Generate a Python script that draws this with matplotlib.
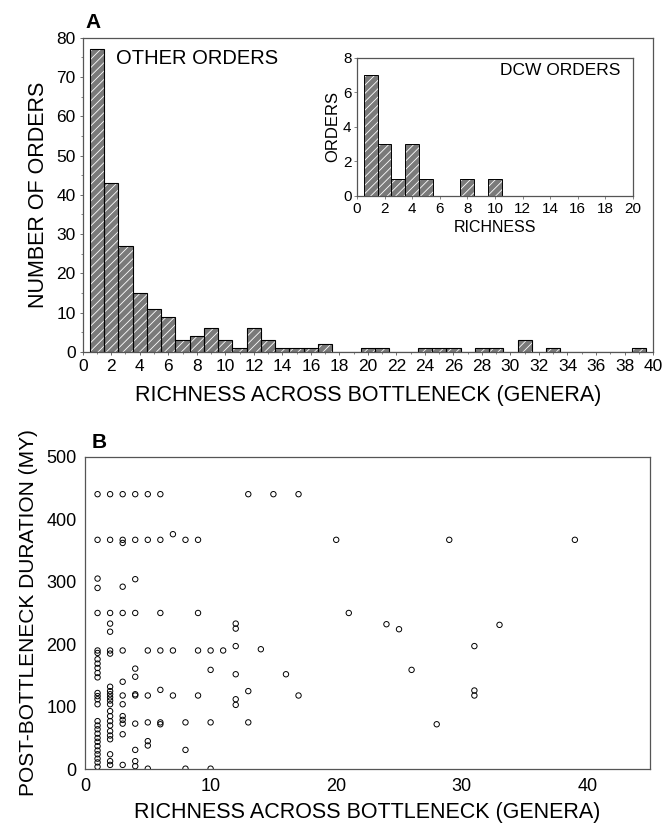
import numpy as np
import matplotlib
matplotlib.use('Agg')
import matplotlib.pyplot as plt

plt.rcParams['font.family'] = ['Liberation Sans', 'DejaVu Sans']
plt.rcParams['hatch.linewidth'] = 0.6

# panel A histogram (other orders), richness 1..39
richness = np.arange(1, 40)
other_counts = [77, 43, 27, 15, 11, 9, 3, 4, 6, 3, 1, 6, 3, 1, 1, 1, 2, 0, 0, 1,
                1, 0, 0, 1, 1, 1, 0, 1, 1, 0, 3, 0, 1, 0, 0, 0, 0, 0, 1]

# inset (DCW orders)
dcw_richness = np.arange(1, 11)
dcw_counts = [7, 3, 1, 3, 1, 0, 0, 1, 0, 1]

# panel B scatter: richness vs post-bottleneck duration (MY)
scatter_cols = {
    1: [440, 367, 305, 290, 250, 190, 186, 176, 169, 162, 154, 147, 122, 117, 112, 104,
        77, 70, 64, 57, 50, 44, 37, 30, 24, 17, 11, 4],
    2: [440, 367, 250, 233, 220, 190, 185, 132, 125, 120, 115, 110, 104, 93, 85, 77, 70,
        61, 54, 48, 24, 13, 7],
    3: [440, 367, 362, 292, 250, 190, 140, 118, 104, 85, 79, 73, 56, 7],
    4: [440, 367, 304, 250, 161, 148, 120, 118, 73, 31, 13, 5],
    5: [440, 367, 190, 118, 75, 45, 38, 1],
    6: [440, 367, 250, 190, 127, 75, 72],
    7: [376, 190, 118],
    8: [367, 75, 31, 1],
    9: [367, 250, 190, 118],
    10: [190, 159, 75, 1],
    11: [190],
    12: [233, 225, 197, 152, 112, 103],
    13: [440, 125, 75],
    14: [192],
    15: [440],
    16: [152],
    17: [440, 118],
    20: [367],
    21: [250],
    24: [232],
    25: [224],
    26: [159],
    28: [72],
    29: [367],
    31: [197, 126, 118],
    33: [231],
    39: [367],
}
sx = []
sy = []
for k, vals in scatter_cols.items():
    for v in vals:
        sx.append(k)
        sy.append(v)

spine_col = '#555555'
bar_face = '#7a7a7a'


def hatched_bars(ax, x, h, lw=0.8):
    ax.bar(x, h, width=1.0, color=bar_face, edgecolor='white', hatch='////', linewidth=0)
    ax.bar(x, h, width=1.0, fill=False, edgecolor='black', linewidth=lw)


def style_spines(ax):
    for s in ax.spines.values():
        s.set_color(spine_col)
        s.set_linewidth(0.9)


fig = plt.figure(figsize=(6.65, 8.27), dpi=100)

# ---- panel A
axA = fig.add_axes([0.1244, 0.5744, 0.8576, 0.38])
hatched_bars(axA, richness, other_counts)
axA.set_xlim(0, 40)
axA.set_ylim(0, 80)
axA.set_xticks(np.arange(0, 41, 2))
axA.set_yticks(np.arange(0, 81, 10))
axA.set_yticks(np.arange(0, 81, 5), minor=True)
axA.set_xticks(np.arange(0, 41, 1), minor=True)
axA.tick_params(labelsize=12.5, length=2, width=0.6, color=spine_col, pad=3)
axA.tick_params(which='minor', length=1.5, width=0.5, color=spine_col)
axA.set_xlabel('RICHNESS ACROSS BOTTLENECK (GENERA)', fontsize=15.5, labelpad=8)
axA.set_ylabel('NUMBER OF ORDERS', fontsize=15.5, labelpad=5)
axA.text(0.059, 0.963, 'OTHER ORDERS', transform=axA.transAxes, fontsize=14.5,
         va='top', ha='left')
axA.text(0.005, 1.017, 'A', transform=axA.transAxes, fontsize=15, fontweight='bold',
         va='bottom', ha='left')
style_spines(axA)

# ---- inset
axI = fig.add_axes([0.5368, 0.763, 0.415, 0.1669])
hatched_bars(axI, dcw_richness, dcw_counts, lw=0.7)
axI.set_xlim(0, 20)
axI.set_ylim(0, 8)
axI.set_xticks(np.arange(0, 21, 2))
axI.set_yticks(np.arange(0, 9, 2))
axI.tick_params(labelsize=11, length=2, width=0.5, color=spine_col, pad=2)
axI.set_xlabel('RICHNESS', fontsize=11.5, labelpad=3)
axI.set_ylabel('ORDERS', fontsize=12, labelpad=2)
axI.text(0.953, 0.964, 'DCW ORDERS', transform=axI.transAxes, fontsize=12.5,
         va='top', ha='right')
style_spines(axI)

# ---- panel B
axB = fig.add_axes([0.1278, 0.0698, 0.85, 0.378])
axB.scatter(sx, sy, s=15, facecolors='none', edgecolors='black', linewidths=0.7)
axB.set_xlim(0, 45)
axB.set_ylim(0, 500)
axB.set_xticks(np.arange(0, 41, 10))
axB.set_yticks(np.arange(0, 501, 100))
axB.tick_params(labelsize=13, length=0, pad=6)
axB.set_xlabel('RICHNESS ACROSS BOTTLENECK (GENERA)', fontsize=15.5, labelpad=5)
axB.set_ylabel('POST-BOTTLENECK DURATION (MY)', fontsize=15, labelpad=6)
axB.text(0.012, 1.016, 'B', transform=axB.transAxes, fontsize=15, fontweight='bold',
         va='bottom', ha='left')
style_spines(axB)

fig.savefig('out.png', dpi=100)
